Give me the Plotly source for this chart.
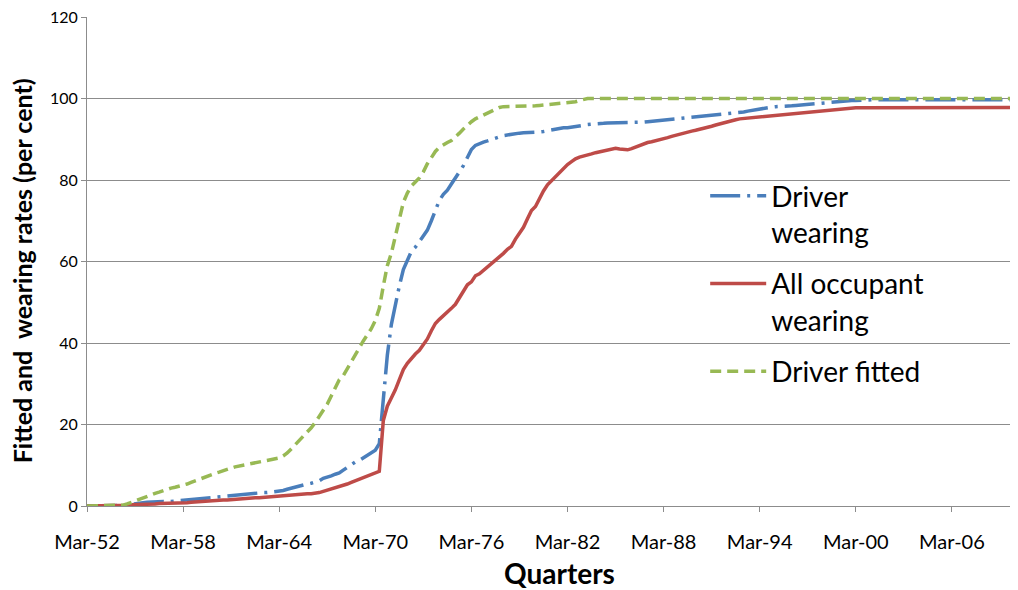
import plotly.graph_objects as go

# Quarterly values, Mar-52 .. Mar-10 (one row per year: Mar, Jun, Sep, Dec)
driver_wearing = [
    0, 0, 0, 0,            # 1952
    0, 0, 0, 0,            # 1953
    0, 0, 0.2, 0.4,        # 1954
    0.6, 0.7, 0.8, 0.9,    # 1955
    1.0, 1.0, 1.1, 1.1,    # 1956
    1.0, 1.1, 1.2, 1.3,    # 1957
    1.4, 1.5, 1.6, 1.7,    # 1958
    1.8, 1.9, 2.0, 2.1,    # 1959
    2.2, 2.3, 2.4, 2.5,    # 1960
    2.6, 2.7, 2.8, 2.9,    # 1961
    3.0, 3.0, 3.1, 3.2,    # 1962
    3.3, 3.3, 3.4, 3.5,    # 1963
    3.6, 3.8, 4.1, 4.4,    # 1964
    4.7, 5.0, 5.2, 5.4,    # 1965
    5.6, 5.8, 6.2, 6.8,    # 1966
    7.0, 7.4, 7.8, 8.1,    # 1967
    8.8, 9.5, 10.2, 10.8,  # 1968
    11.2, 11.8, 12.5, 13.2,  # 1969
    13.7, 15.3, 26.0, 37.0,  # 1970
    44.5, 49.5, 54.0, 58.0,  # 1971
    60.5, 62.5, 63.5, 65.0,  # 1972
    66.2, 67.7, 70.0, 72.5,  # 1973
    75.0, 76.5, 77.5, 79.0,  # 1974
    80.5, 82.0, 83.5, 85.5,  # 1975
    87.5, 88.5, 89.0, 89.3,  # 1976
    89.6, 90.0, 90.3, 90.6,  # 1977
    90.9, 91.1, 91.3, 91.5,  # 1978
    91.5, 91.6, 91.6, 91.7,  # 1979
    91.7, 91.8, 91.9, 92.1,  # 1980
    92.3, 92.5, 92.7, 92.8,  # 1981
    92.8, 93.0, 93.2, 93.4,  # 1982
    93.5, 93.6, 93.7, 93.7,  # 1983
    93.8, 93.9, 94.0, 94.0,  # 1984
    94.0, 94.1, 94.1, 94.1,  # 1985
    94.2, 94.2, 94.2, 94.2,  # 1986
    94.3, 94.4, 94.5, 94.6,  # 1987
    94.7, 94.8, 94.9, 95.0,  # 1988
    95.1, 95.1, 95.2, 95.2,  # 1989
    95.3, 95.5, 95.6, 95.7,  # 1990
    95.8, 95.9, 96.0, 96.0,  # 1991
    96.1, 96.2, 96.3, 96.5,  # 1992
    96.7, 96.9, 97.1, 97.3,  # 1993
    97.5, 97.7, 97.8, 97.9,  # 1994
    98.0, 98.0, 98.1, 98.1,  # 1995
    98.2, 98.3, 98.4, 98.5,  # 1996
    98.6, 98.7, 98.8, 98.9,  # 1997
    98.9, 99.0, 99.0, 99.1,  # 1998
    99.2, 99.3, 99.4, 99.5,  # 1999
    99.5, 99.6, 99.6, 99.7,  # 2000
    99.7, 99.7, 99.7, 99.7,  # 2001
    99.7, 99.7, 99.7, 99.7,  # 2002
    99.7, 99.7, 99.7, 99.7,  # 2003
    99.7, 99.7, 99.7, 99.7,  # 2004
    99.7, 99.7, 99.7, 99.7,  # 2005
    99.7, 99.7, 99.7, 99.7,  # 2006
    99.7, 99.7, 99.7, 99.7,  # 2007
    99.7, 99.7, 99.7, 99.7,  # 2008
    99.7, 99.7, 99.7, 99.7,  # 2009
    99.7,                    # 2010
]

all_occupant_wearing = [
    0, 0, 0, 0,            # 1952
    0, 0, 0, 0,            # 1953
    0, 0.1, 0.2, 0.3,      # 1954
    0.3, 0.4, 0.4, 0.5,    # 1955
    0.5, 0.5, 0.6, 0.6,    # 1956
    0.6, 0.7, 0.7, 0.7,    # 1957
    0.7, 0.8, 0.9, 1.0,    # 1958
    1.0, 1.1, 1.1, 1.2,    # 1959
    1.3, 1.4, 1.5, 1.5,    # 1960
    1.6, 1.7, 1.7, 1.8,    # 1961
    1.8, 1.9, 2.0, 2.0,    # 1962
    2.1, 2.1, 2.2, 2.2,    # 1963
    2.3, 2.4, 2.5, 2.6,    # 1964
    2.7, 2.8, 2.9, 3.0,    # 1965
    3.0, 3.1, 3.3, 3.6,    # 1966
    3.9, 4.2, 4.4, 4.6,    # 1967
    5.0, 5.4, 5.8, 6.2,    # 1968
    6.5, 6.9, 7.3, 7.8,    # 1969
    8.0, 8.5, 21.0, 24.5,  # 1970
    26.5, 28.5, 31.0, 33.5,  # 1971
    35.0, 36.3, 37.3, 38.2,  # 1972
    39.5, 41.0, 43.0, 44.8,  # 1973
    45.8, 46.8, 47.8, 48.5,  # 1974
    49.5, 51.0, 52.5, 54.3,  # 1975
    55.0, 56.5, 57.0, 57.8,  # 1976
    58.6, 59.4, 60.2, 61.2,  # 1977
    62.0, 63.0, 63.7, 65.5,  # 1978
    66.8, 68.4, 70.5, 72.5,  # 1979
    73.5, 75.5, 77.3, 78.8,  # 1980
    79.8, 80.8, 81.8, 83.0,  # 1981
    83.8, 84.5, 85.2, 85.6,  # 1982
    85.8, 86.1, 86.4, 86.7,  # 1983
    86.9, 87.1, 87.3, 87.5,  # 1984
    87.8, 87.6, 87.4, 87.4,  # 1985
    87.7, 88.1, 88.6, 89.0,  # 1986
    89.2, 89.4, 89.6, 89.8,  # 1987
    90.1, 90.4, 90.7, 91.0,  # 1988
    91.2, 91.5, 91.8, 92.0,  # 1989
    92.2, 92.4, 92.7, 93.0,  # 1990
    93.2, 93.5, 93.8, 94.1,  # 1991
    94.3, 94.5, 94.8, 95.0,  # 1992
    95.1, 95.2, 95.3, 95.4,  # 1993
    95.5, 95.6, 95.7, 95.8,  # 1994
    95.9, 96.0, 96.1, 96.2,  # 1995
    96.3, 96.4, 96.5, 96.6,  # 1996
    96.7, 96.8, 96.9, 97.0,  # 1997
    97.1, 97.2, 97.3, 97.4,  # 1998
    97.5, 97.5, 97.6, 97.6,  # 1999
    97.7, 97.7, 97.7, 97.8,  # 2000
    97.8, 97.8, 97.8, 97.8,  # 2001
    97.8, 97.8, 97.8, 97.8,  # 2002
    97.8, 97.8, 97.8, 97.8,  # 2003
    97.8, 97.8, 97.8, 97.8,  # 2004
    97.8, 97.8, 97.8, 97.8,  # 2005
    97.8, 97.8, 97.8, 97.8,  # 2006
    97.8, 97.8, 97.8, 97.8,  # 2007
    97.8, 97.8, 97.8, 97.8,  # 2008
    97.8, 97.8, 97.8, 97.8,  # 2009
    97.8,                    # 2010
]

driver_fitted = [
    0, 0, 0, 0,            # 1952
    0, 0, 0, 0,            # 1953
    0, 0.2, 0.5, 0.9,      # 1954
    1.2, 1.6, 2.0, 2.4,    # 1955
    2.8, 3.1, 3.4, 3.8,    # 1956
    4.1, 4.4, 4.6, 4.8,    # 1957
    5.0, 5.4, 5.8, 6.2,    # 1958
    6.5, 6.9, 7.2, 7.6,    # 1959
    8.0, 8.3, 8.7, 9.0,    # 1960
    9.3, 9.6, 9.8, 10.0,   # 1961
    10.2, 10.4, 10.6, 10.9,  # 1962
    11.0, 11.2, 11.4, 11.6,  # 1963
    11.8, 12.3, 13.0, 14.0,  # 1964
    15.0, 16.0, 17.2, 18.2,  # 1965
    19.2, 20.5, 22.0, 23.8,  # 1966
    25.0, 27.0, 29.0, 31.0,  # 1967
    32.0, 33.7, 35.5, 37.5,  # 1968
    39.0, 40.5, 42.0, 43.5,  # 1969
    45.5, 48.5, 54.0, 59.0,  # 1970
    62.0, 66.0, 70.5, 74.5,  # 1971
    76.8, 78.5, 79.5, 80.5,  # 1972
    82.0, 84.0, 85.5, 87.0,  # 1973
    88.0, 88.7, 89.2, 89.7,  # 1974
    90.5, 91.5, 92.5, 93.5,  # 1975
    94.3, 95.0, 95.5, 96.0,  # 1976
    96.5, 97.0, 97.5, 97.8,  # 1977
    98.0, 98.0, 98.1, 98.1,  # 1978
    98.1, 98.1, 98.2, 98.2,  # 1979
    98.2, 98.3, 98.4, 98.5,  # 1980
    98.6, 98.7, 98.8, 98.9,  # 1981
    98.9, 99.0, 99.2, 99.5,  # 1982
    99.8, 100, 100, 100,     # 1983
    100, 100, 100, 100,      # 1984
    100, 100, 100, 100,      # 1985
    100, 100, 100, 100,      # 1986
    100, 100, 100, 100,      # 1987
    100, 100, 100, 100,      # 1988
    100, 100, 100, 100,      # 1989
    100, 100, 100, 100,      # 1990
    100, 100, 100, 100,      # 1991
    100, 100, 100, 100,      # 1992
    100, 100, 100, 100,      # 1993
    100, 100, 100, 100,      # 1994
    100, 100, 100, 100,      # 1995
    100, 100, 100, 100,      # 1996
    100, 100, 100, 100,      # 1997
    100, 100, 100, 100,      # 1998
    100, 100, 100, 100,      # 1999
    100, 100, 100, 100,      # 2000
    100, 100, 100, 100,      # 2001
    100, 100, 100, 100,      # 2002
    100, 100, 100, 100,      # 2003
    100, 100, 100, 100,      # 2004
    100, 100, 100, 100,      # 2005
    100, 100, 100, 100,      # 2006
    100, 100, 100, 100,      # 2007
    100, 100, 100, 100,      # 2008
    100, 100, 100, 100,      # 2009
    100,                     # 2010
]

month_names = ["Mar", "Jun", "Sep", "Dec"]
first_year = 1952
quarters = [f"{month_names[i % 4]}-{(first_year + i // 4) % 100:02d}"
            for i in range(len(driver_wearing))]

tick_labels = ["Mar-52", "Mar-58", "Mar-64", "Mar-70", "Mar-76",
               "Mar-82", "Mar-88", "Mar-94", "Mar-00", "Mar-06"]
tick_positions = [quarters.index(t) for t in tick_labels]
y_ticks = [0, 20, 40, 60, 80, 100, 120]
x_idx = list(range(len(quarters)))

FONT = "Lato, 'Open Sans', sans-serif"
GRID = "#8c8c8c"

fig = go.Figure()
fig.add_trace(go.Scatter(
    x=x_idx, y=driver_wearing, name="Driver<br>wearing", mode="lines",
    legendgroup="a",
    line=dict(color="#4A7EBB", width=3.5, dash="30px,7px,3px,7px"),
    customdata=quarters, hovertemplate="%{customdata}: %{y}<extra></extra>"))
fig.add_trace(go.Scatter(
    x=x_idx, y=all_occupant_wearing, name="All occupant<br>wearing", mode="lines",
    legendgroup="b",
    line=dict(color="#BE4B48", width=3.5),
    customdata=quarters, hovertemplate="%{customdata}: %{y}<extra></extra>"))
fig.add_trace(go.Scatter(
    x=x_idx, y=driver_fitted, name="Driver fitted", mode="lines",
    legendgroup="c",
    line=dict(color="#98B954", width=3.5, dash="11px,6px"),
    customdata=quarters, hovertemplate="%{customdata}: %{y}<extra></extra>"))

fig.update_layout(
    width=1018, height=590,
    margin=dict(l=79, r=8, t=9, b=92),
    paper_bgcolor="white", plot_bgcolor="white",
    font=dict(family=FONT, color="#000000"),
    showlegend=True,
    legend=dict(
        x=0.664, y=0.685, xanchor="left", yanchor="top", valign="top",
        bgcolor="rgba(255,255,255,0)", font=dict(size=28, family=FONT),
        itemwidth=56, tracegroupgap=12,
    ),
    xaxis=dict(
        range=[0, 232.5], tickmode="array", tickvals=tick_positions, ticktext=tick_labels,
        showgrid=False, zeroline=False, showline=True, linecolor=GRID, linewidth=1,
        ticks="outside", ticklen=5, tickcolor=GRID, tickfont=dict(size=20, family=FONT),
        ticklabelstandoff=13, automargin=False, ticklabeloverflow="allow",
    ),
    yaxis=dict(
        range=[0, 120], tickmode="array", tickvals=y_ticks,
        showgrid=True, gridcolor=GRID, gridwidth=1, zeroline=False,
        showline=True, linecolor=GRID, linewidth=1,
        ticks="outside", ticklen=5, tickcolor=GRID, tickfont=dict(size=16, family=FONT),
        automargin=False, ticklabeloverflow="allow",
    ),
    annotations=[
        dict(text="<b>Quarters</b>", xref="paper", yref="paper", x=0.507, y=0,
             xanchor="center", yanchor="middle", yshift=-67, showarrow=False,
             font=dict(size=28, family=FONT)),
        dict(text="<b>Fitted and  wearing rates (per cent)</b>", xref="paper", yref="paper",
             x=0, y=0.48, xanchor="center", yanchor="middle", xshift=-65, textangle=-90,
             showarrow=False, font=dict(size=25, family=FONT)),
    ],
)

fig.write_html("out.html")
